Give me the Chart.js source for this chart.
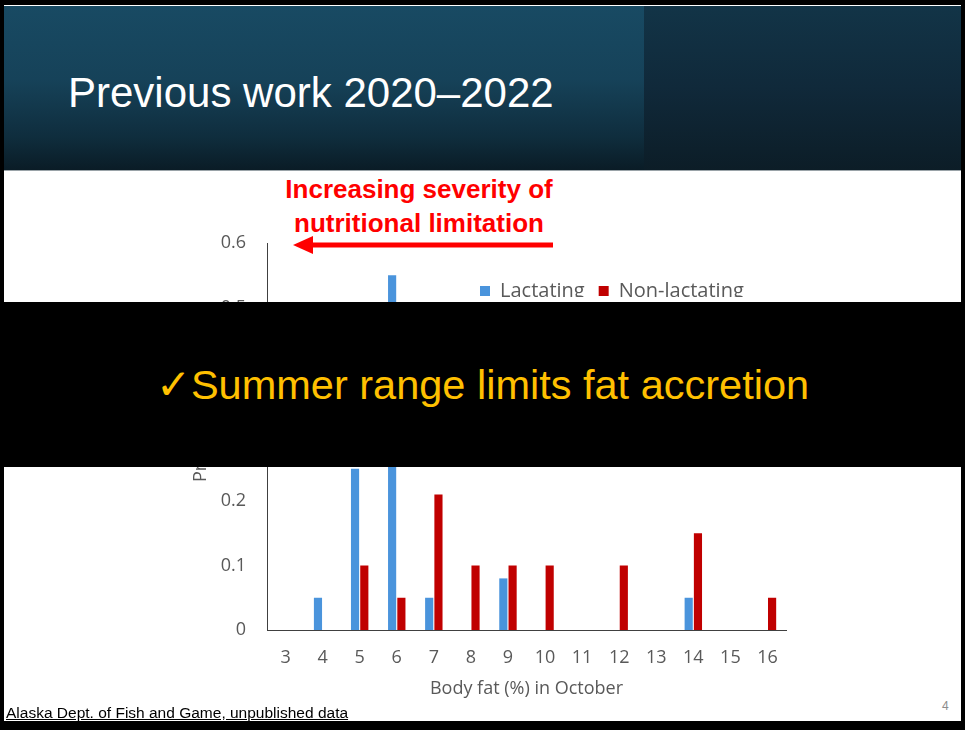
<!DOCTYPE html>
<html>
<head>
<meta charset="utf-8">
<script src="https://cdn.jsdelivr.net/npm/chart.js@4.4.1/dist/chart.umd.min.js"></script>
<style>
  body { margin: 0; width: 965px; height: 730px; background: #000; position: relative; overflow: hidden; }
  .slide { position: absolute; left: 4px; top: 5px; width: 957px; height: 716px; background: #fff; overflow: hidden; }
  .head-left { position: absolute; left: 0; top: 1px; width: 640px; height: 164px;
    background: linear-gradient(180deg, #184a63 0%, #164259 45%, #0f2d3d 80%, #0a1c26 100%); }
  .head-right { position: absolute; left: 640px; top: 1px; width: 317px; height: 164px;
    background: linear-gradient(180deg, #123447 0%, #10293a 50%, #0c1d27 100%); }
  .head-line { position: absolute; left: 0; top: 165px; width: 957px; height: 1px; background: #9aa3a8; }
  .title { position: absolute; left: 64px; top: 64px; color: #fff; font: 42px "Liberation Sans", Arial, sans-serif; white-space: nowrap; }
  .note { position: absolute; left: 250px; top: 167px; width: 330px; text-align: center; color: #ff0000;
    font: bold 26px/34px "Liberation Sans", Arial, sans-serif; }
  .banner { position: absolute; left: 0; top: 297px; width: 957px; height: 165px; background: #000;
    color: #ffc000; font: 41.5px "Liberation Sans", Arial, sans-serif; text-align: center; line-height: 165px; z-index: 5; }
  .source { position: absolute; left: 2px; top: 699px; color: #000; font: 15.5px "Liberation Sans", Arial, sans-serif;
    text-decoration: underline; white-space: nowrap; }
  .page { position: absolute; left: 938px; top: 694px; color: #8c8c8c; font: 12px "Liberation Sans", Arial, sans-serif; }
  #chart { position: absolute; left: 176px; top: 225px; }
  svg { position: absolute; left: 0; top: 0; }
</style>
</head>
<body>
<div class="slide">
  <div class="head-left"></div>
  <div class="head-right"></div>
  <div class="head-line"></div>
  <div class="title">Previous work 2020–2022</div>
  <div class="note">Increasing severity of nutritional limitation</div>
  <svg width="957" height="716">
    <line x1="549" y1="240" x2="300" y2="240" stroke="#ff0000" stroke-width="5"/>
    <polygon points="289,240 309,231 309,249" fill="#ff0000"/>
  </svg>
  <canvas id="chart" width="620" height="475"></canvas>
  <div class="banner">✓Summer range limits fat accretion</div>
  <div class="source">Alaska Dept. of Fish and Game, unpublished data</div>
  <div class="page">4</div>
</div>
<script>
  // Body fat classes (%) and proportion of females in each
  const bodyFat = ['3', '4', '5', '6', '7', '8', '9', '10', '11', '12', '13', '14', '15', '16'];
  const lactating = [0, 0.05, 0.25, 0.55, 0.05, 0, 0.08, 0, 0, 0, 0, 0.05, 0, 0];
  const nonLactating = [0, 0, 0.1, 0.05, 0.21, 0.1, 0.1, 0.1, 0, 0.1, 0, 0.15, 0, 0.05];

  const gray = '#595959';
  Chart.defaults.font.family = '"Open Sans", sans-serif';
  Chart.defaults.color = gray;

  // Legend sits inside the plot in the slide, so move it there after layout
  const legendSpot = {
    id: 'legendSpot',
    afterLayout(chart) {
      const lg = chart.legend;
      const w = lg.width;
      lg.left = 286;
      lg.right = lg.left + w;
      lg.top = 37;
      lg.bottom = lg.top + 30;
    }
  };

  new Chart(document.getElementById('chart'), {
    type: 'bar',
    data: {
      labels: bodyFat,
      datasets: [
        { label: 'Lactating', data: lactating, backgroundColor: '#4a94dc', borderWidth: 0,
          barPercentage: 0.88, categoryPercentage: 0.5 },
        { label: 'Non-lactating', data: nonLactating, backgroundColor: '#c00000', borderWidth: 0,
          barPercentage: 0.88, categoryPercentage: 0.5 }
      ]
    },
    options: {
      responsive: false,
      animation: false,
      layout: { padding: { top: 12, right: 14, left: 0, bottom: 0 } },
      plugins: {
        legend: {
          position: 'top',
          align: 'start',
          maxHeight: 1,
          labels: { boxWidth: 10, boxHeight: 10, padding: 14, color: gray, font: { size: 20 } }
        },
        tooltip: { enabled: false }
      },
      scales: {
        x: {
          // tick marks hidden, their length only spaces the labels
          ticks: { color: gray, font: { size: 18 }, padding: 2 },
          grid: { display: false, drawTicks: true, tickLength: 15 },
          border: { display: true, color: '#404040', width: 1 },
          title: { display: true, text: 'Body fat (%) in October', color: gray, font: { size: 18 },
            padding: { top: 0, bottom: 5 } },
          afterFit(s) { s.height = 75; }
        },
        y: {
          min: 0,
          max: 0.6,
          ticks: { stepSize: 0.1, color: gray, font: { size: 18 }, padding: 2 },
          grid: { display: false, drawTicks: true, tickLength: 19 },
          border: { display: true, color: '#404040', width: 1 },
          title: { display: true, text: 'Proportion', color: gray, font: { size: 18 }, padding: { top: 10 } },
          afterFit(s) { s.width = 87; }
        }
      }
    },
    plugins: [legendSpot]
  });
</script>
</body>
</html>
